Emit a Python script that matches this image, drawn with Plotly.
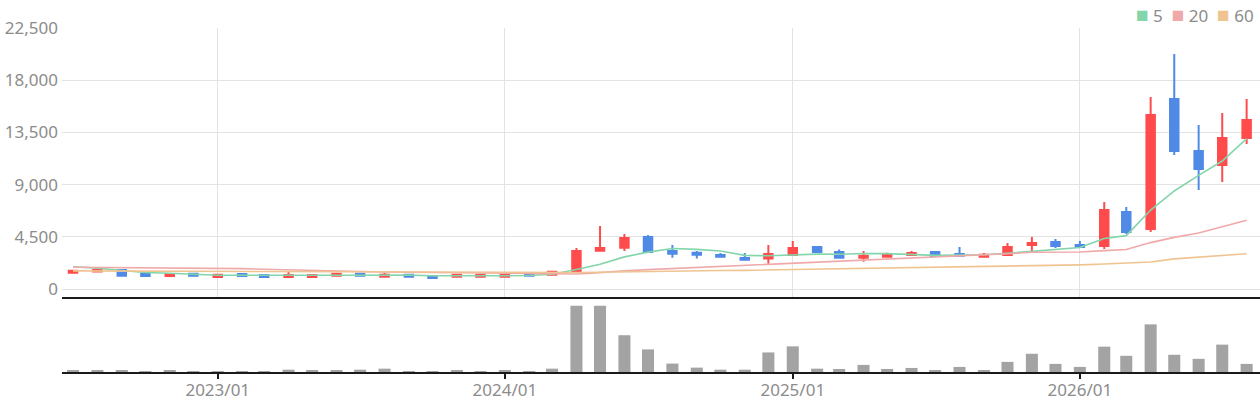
import pandas as pd
import plotly.graph_objects as go

# monthly candles, 2022/07 .. 2026/08
months = pd.date_range(start="2022-07-01", periods=50, freq="MS")

open_ = [1410, 1500, 1640, 1290, 1120, 1320, 1030, 1290, 1205, 1030,
         1030, 1150, 1320, 1060, 1234, 1120, 1060, 1060, 1060, 1320,
         1234, 1492, 3300, 3560, 4480, 3280, 3130, 2930, 2670, 2620,
         2930, 3620, 3190, 2700, 2790, 2930, 3190, 3020, 2790, 2930,
         3790, 4050, 3790, 3710, 6640, 5170, 16380, 11900, 10690, 13020]
high = [1600, 1680, 1650, 1290, 1380, 1330, 1240, 1290, 1210, 1490,
        1290, 1330, 1320, 1406, 1240, 1120, 1240, 1240, 1320, 1320,
        1578, 3530, 5430, 4740, 4650, 3790, 3280, 3100, 3100, 3790,
        4140, 3620, 3400, 3280, 3130, 3280, 3275, 3620, 3100, 3965,
        4480, 4310, 4140, 7500, 7070, 16550, 20260, 14140, 15170, 16380]
low = [1400, 1490, 1150, 1030, 1120, 1150, 1030, 1030, 1030, 1030,
       1030, 1150, 1060, 1060, 976, 861, 1060, 1060, 1060, 1148,
       1234, 1492, 3215, 3280, 3130, 2700, 2620, 2700, 2530, 2180,
       2930, 3100, 2600, 2350, 2760, 2850, 2760, 2870, 2787, 2930,
       3280, 3530, 3620, 3450, 4740, 4910, 11550, 8530, 9220, 12500]
close = [1580, 1660, 1150, 1120, 1290, 1150, 1234, 1120, 1033, 1205,
         1205, 1320, 1150, 1234, 1062, 947, 1234, 1234, 1234, 1148,
         1492, 3272, 3530, 4400, 3190, 3040, 2960, 2790, 2530, 3020,
         3530, 3190, 2700, 2870, 2960, 3100, 2845, 2870, 2960, 3620,
         3965, 3710, 3620, 6810, 4910, 15000, 11900, 10340, 13020, 14570]

# moving averages
ma5 = [1920, 1800, 1600, 1420, 1360, 1270, 1190, 1180, 1165, 1150,
       1160, 1180, 1185, 1220, 1195, 1145, 1125, 1140, 1140, 1160,
       1270, 1680, 2140, 2770, 3180, 3490, 3420, 3280, 2900, 2870,
       2970, 3010, 2990, 3060, 3050, 2960, 2900, 2930, 2950, 3080,
       3250, 3430, 3580, 4350, 4600, 6810, 8450, 9790, 11030, 12970]
ma20 = [1880, 1870, 1860, 1850, 1840, 1830, 1810, 1760, 1700, 1640,
        1590, 1550, 1510, 1470, 1440, 1410, 1380, 1350, 1330, 1310,
        1290, 1290, 1410, 1580, 1670, 1760, 1850, 1930, 2010, 2100,
        2220, 2310, 2390, 2470, 2560, 2670, 2750, 2830, 2920, 3040,
        3170, 3190, 3190, 3310, 3400, 4000, 4450, 4820, 5350, 5930]
ma60 = [1560, 1555, 1550, 1545, 1540, 1535, 1530, 1520, 1510, 1500,
        1490, 1480, 1470, 1460, 1450, 1440, 1430, 1420, 1410, 1400,
        1400, 1420, 1450, 1490, 1520, 1550, 1570, 1590, 1610, 1640,
        1680, 1720, 1760, 1790, 1820, 1840, 1860, 1880, 1910, 1950,
        1990, 2040, 2080, 2150, 2210, 2330, 2600, 2760, 2900, 3040]

volume = [130, 130, 130, 5, 130, 5, 5, 5, 5, 230,
          130, 130, 230, 330, 5, 5, 130, 5, 130, 5,
          330, 6530, 6530, 3630, 2230, 830, 430, 230, 230, 1930,
          2530, 330, 300, 700, 300, 400, 200, 500, 100, 1000,
          1800, 800, 500, 2500, 1600, 4700, 1700, 1300, 2700, 800]

ma_names = ["5", "20", "60"]
ma_colors = ["#83d5ab", "#f0a9a9", "#f0c491"]

RED = "#ff4b4b"
BLUE = "#4f8ae6"
GREY = "#8c8c8c"
FONT = "Noto Sans"

fig = go.Figure()

# MA lines drawn under the candles
for name, vals, col in zip(ma_names, [ma5, ma20, ma60], ma_colors):
    fig.add_trace(go.Scatter(
        x=months, y=vals, mode="lines", name=name,
        line=dict(color=col, width=1.6), showlegend=False,
        xaxis="x", yaxis="y",
    ))

fig.add_trace(go.Candlestick(
    x=months, open=open_, high=high, low=low, close=close,
    increasing=dict(line=dict(color=RED, width=2), fillcolor=RED),
    decreasing=dict(line=dict(color=BLUE, width=2), fillcolor=BLUE),
    whiskerwidth=0, showlegend=False, xaxis="x", yaxis="y",
))

fig.add_trace(go.Bar(
    x=months, y=volume, marker=dict(color="#a3a3a3", line=dict(width=0)),
    width=15.3 * 86400000, showlegend=False, xaxis="x2", yaxis="y2",
))

# legend made of coloured squares and labels, top right
legend_txt = "\u00a0\u00a0".join(
    f"<span style='color:{c};font-size:21px'>\u25a0</span>\u00a0{n}"
    for n, c in zip(ma_names, ma_colors)
)
fig.add_annotation(
    text=legend_txt, xref="paper", yref="paper", x=1, y=1,
    xanchor="right", yanchor="bottom", yshift=-2, xshift=-4,
    showarrow=False, font=dict(family=FONT, size=17, color=GREY),
)

split = 0.218
fig.update_layout(
    width=1260, height=400,
    margin=dict(l=62, r=0, t=28, b=28, autoexpand=False),
    paper_bgcolor="white", plot_bgcolor="white",
    font=dict(family=FONT, size=17, color=GREY),
    boxgap=0.45, showlegend=False,
    xaxis=dict(
        domain=[0, 1], anchor="y", type="date",
        range=["2022-06-17", "2026-08-18"],
        rangeslider=dict(visible=False),
        tick0="2023-01-01", dtick="M12",
        showticklabels=False, ticks="",
        showgrid=True, gridcolor="#e3e3e3", gridwidth=1,
        showline=True, linecolor="#1a1a1a", linewidth=2,
        zeroline=False, automargin=False,
    ),
    yaxis=dict(
        domain=[split, 1], anchor="x",
        range=[-690, 22500],
        tickvals=[0, 4500, 9000, 13500, 18000, 22500],
        tickformat=",", showgrid=True, gridcolor="#e3e3e3",
        zeroline=False, showline=False, ticks="", automargin=False,
        ticklabelstandoff=3,
        tickfont=dict(family=FONT, size=17, color=GREY),
    ),
    xaxis2=dict(
        domain=[0, 1], anchor="y2", type="date", matches="x",
        tick0="2023-01-01", dtick="M12", tickformat="%Y/%m",
        showgrid=False, showline=True, linecolor="#1a1a1a", linewidth=2,
        ticks="outside", ticklen=5, tickwidth=2, tickcolor="#1a1a1a",
        ticklabelstandoff=-3,
        tickfont=dict(family=FONT, size=17, color=GREY),
        zeroline=False, automargin=False,
    ),
    yaxis2=dict(
        domain=[0, split], anchor="x2",
        range=[0, 7400], showticklabels=False, showgrid=False,
        zeroline=False, showline=False, automargin=False,
    ),
    hovermode="x",
)

# drop the default 8px page margin so the figure fills the window
fig.write_html(
    "out.html",
    config={"displayModeBar": False},
    post_script="document.body.style.margin='0';",
)
